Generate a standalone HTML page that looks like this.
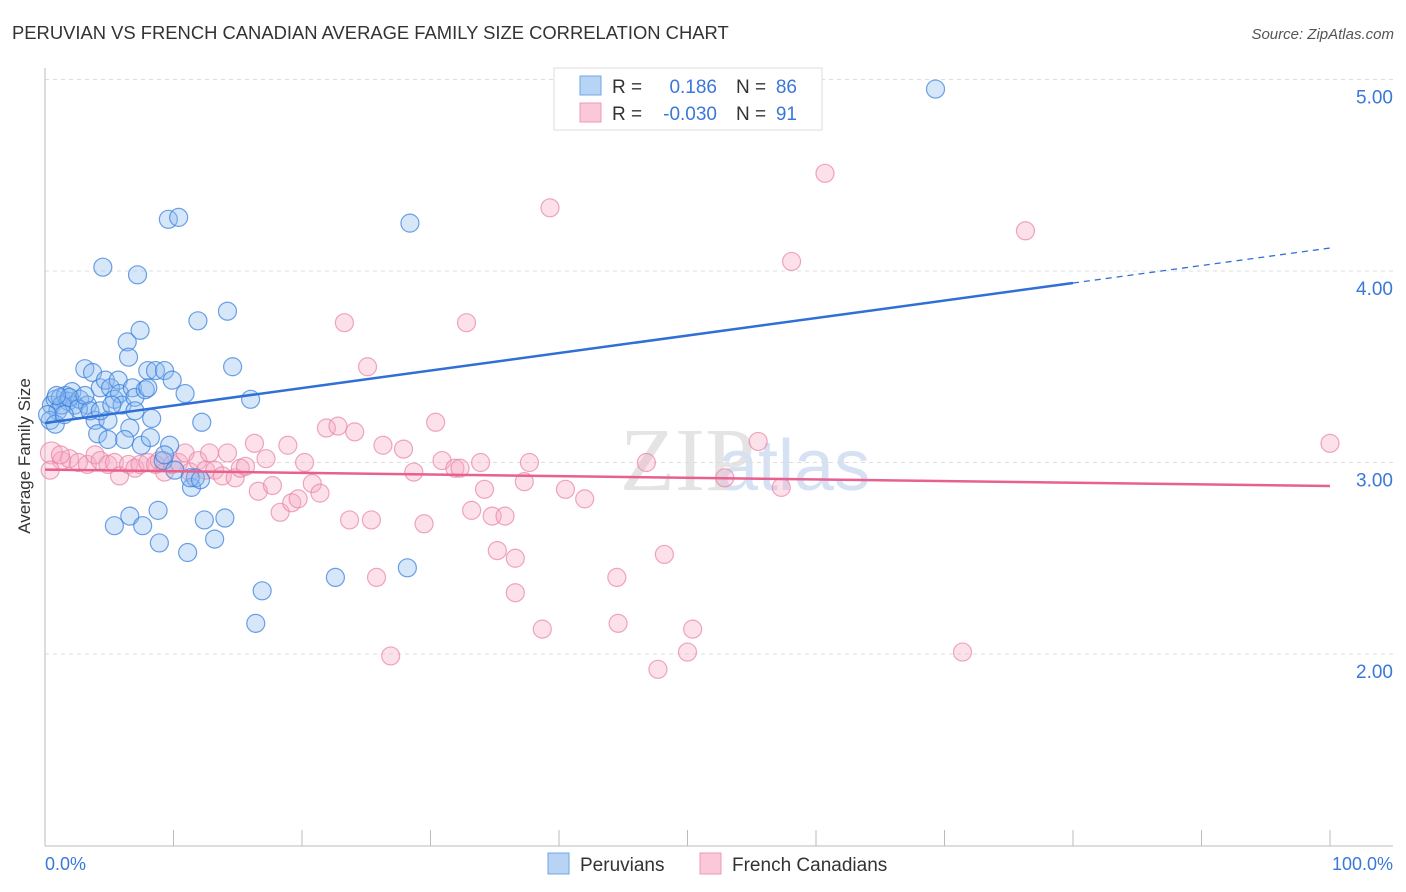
<!DOCTYPE html>
<html><head><meta charset="utf-8"><style>
body{margin:0;background:#fff;font-family:"Liberation Sans",sans-serif}
svg{display:block}
</style></head><body>
<svg width="1406" height="892" id="c">
<text x="12" y="39" font-size="18.4" fill="#333">PERUVIAN VS FRENCH CANADIAN AVERAGE FAMILY SIZE CORRELATION CHART</text>
<text x="1394" y="39" font-size="15" fill="#555" font-style="italic" text-anchor="end">Source: ZipAtlas.com</text>
<text x="30" y="456" font-size="17" fill="#333" text-anchor="middle" transform="rotate(-90 30 456)">Average Family Size</text>
<text x="620" y="490" font-size="90" fill="#e4e4e4" font-family="Liberation Serif,serif">ZIP</text>
<text x="718" y="490" font-size="72" fill="#d6e2f3">atlas</text>
<g id="grid"></g><g id="pts"></g><g id="lines"></g>
<g>
<rect x="554" y="68" width="268" height="62" fill="#fff" stroke="#ddd"/>
<rect x="580" y="76" width="21" height="19" fill="#b8d4f5" stroke="#6fa6e6"/>
<rect x="580" y="103" width="21" height="19" fill="#fac8d8" stroke="#ef9ab5"/>
<text x="612" y="93" font-size="19" fill="#333">R =</text><text x="717" y="93" font-size="19" fill="#3a78d8" text-anchor="end">0.186</text>
<text x="736" y="93" font-size="19" fill="#333">N =</text><text x="797" y="93" font-size="19" fill="#3a78d8" text-anchor="end">86</text>
<text x="612" y="120" font-size="19" fill="#333">R =</text><text x="717" y="120" font-size="19" fill="#3a78d8" text-anchor="end">-0.030</text>
<text x="736" y="120" font-size="19" fill="#333">N =</text><text x="797" y="120" font-size="19" fill="#3a78d8" text-anchor="end">91</text>
</g>
<g>
<rect x="548" y="853" width="21" height="21" fill="#b8d4f5" stroke="#6fa6e6"/>
<text x="580" y="871" font-size="19" fill="#333">Peruvians</text>
<rect x="700" y="853" width="21" height="21" fill="#fac8d8" stroke="#ef9ab5"/>
<text x="732" y="871" font-size="19" fill="#333">French Canadians</text>
</g>
<text x="45" y="870" font-size="18" fill="#3a78d8">0.0%</text>
<text x="1393" y="870" font-size="18" fill="#3a78d8" text-anchor="end">100.0%</text>
</svg>
<script>
const blueX=[0.5,0.8,1.0,1.2,1.6,1.8,2.1,2.3,2.7,3.1,3.3,3.7,3.9,4.1,4.3,4.5,4.7,4.9,5.1,5.4,5.7,5.8,6.0,6.4,6.5,6.6,6.8,7.0,7.2,7.4,7.5,7.8,8.0,8.2,8.3,8.6,8.8,8.9,9.2,9.3,9.6,9.7,9.9,10.1,10.4,10.9,11.1,11.4,11.7,11.9,12.2,12.4,13.2,14.0,14.2,14.6,16.0,16.9,16.4,5.4,6.6,7.6,22.6,28.2,28.4,69.3,0.4,1.3,1.9,2.6,3.1,3.5,4.3,4.9,5.2,6.2,7.0,8.0,9.3,11.3,12.1,0.2,0.8,0.9,1.5];
const blueY=[3.30,3.33,3.27,3.34,3.35,3.32,3.37,3.30,3.33,3.49,3.30,3.47,3.22,3.15,3.39,4.02,3.43,3.22,3.39,3.33,3.43,3.36,3.30,3.63,3.55,3.18,3.39,3.34,3.98,3.69,3.09,3.38,3.48,3.13,3.23,3.48,2.75,2.58,3.01,3.48,4.27,3.09,3.43,2.96,4.28,3.36,2.53,2.87,2.92,3.74,3.21,2.70,2.60,2.71,3.79,3.50,3.33,2.33,2.16,2.67,2.72,2.67,2.40,2.45,4.25,4.95,3.22,3.30,3.34,3.28,3.35,3.27,3.27,3.12,3.30,3.12,3.27,3.39,3.04,2.92,2.91,3.25,3.20,3.35,3.25];
const pinkX=[0.5,1.3,1.9,2.6,3.3,3.9,4.3,4.9,5.4,5.8,6.5,7.0,7.4,8.0,8.6,8.9,9.3,9.9,10.4,10.9,11.3,11.9,12.5,12.8,13.2,13.8,14.2,14.8,15.2,15.6,16.3,16.6,17.2,17.7,18.3,18.9,19.2,19.7,20.2,20.8,21.4,21.9,22.8,23.3,23.7,24.1,25.1,25.4,25.8,26.3,26.9,27.9,28.7,29.5,30.4,30.9,31.9,32.3,32.8,33.2,34.2,34.8,35.2,35.8,36.6,36.6,37.3,37.7,38.7,39.3,40.5,42.0,44.5,44.6,46.8,47.7,48.2,50.0,50.4,52.9,55.5,57.3,58.1,60.7,71.4,76.3,100,0.4,1.2,33.9];
const pinkY=[3.05,3.01,3.02,3.00,2.99,3.04,3.01,2.99,3.00,2.93,2.99,2.97,2.99,3.00,2.99,3.01,2.95,2.99,3.00,3.05,2.95,3.01,2.96,3.05,2.96,2.93,3.05,2.92,2.97,2.98,3.10,2.85,3.02,2.88,2.74,3.09,2.79,2.81,3.00,2.89,2.84,3.18,3.19,3.73,2.70,3.16,3.50,2.70,2.40,3.09,1.99,3.07,2.95,2.68,3.21,3.01,2.97,2.97,3.73,2.75,2.86,2.72,2.54,2.72,2.50,2.32,2.90,3.00,2.13,4.33,2.86,2.81,2.40,2.16,3.00,1.92,2.52,2.01,2.13,2.92,3.11,2.87,4.05,4.51,2.01,4.21,3.10,2.96,3.04,3.00];
const yTicks=[2,3,4,5];
const yTickLabels=["2.00","3.00","4.00","5.00"];
const blueTrend=[3.206,4.12];
const pinkTrend=[2.963,2.877];
const NS="http://www.w3.org/2000/svg";
const sx=v=>45+v*12.85, sy=v=>462.5-(v-3)*191.5;
function mk(t,a,p){const e=document.createElementNS(NS,t);for(const k in a)e.setAttribute(k,a[k]);p.appendChild(e);return e;}
const grid=document.getElementById('grid');
yTicks.forEach((t,i)=>{
 const g=mk('line',{x1:45,x2:1393,y1:sy(t),y2:sy(t),stroke:'#ddd','stroke-dasharray':'4,4'},grid);
 
 
 const tx=mk('text',{x:1393,y:sy(t)+24,'font-size':19,fill:'#3a78d8','text-anchor':'end'},grid);
 tx.textContent=yTickLabels[i];
 
 
});
mk('line',{x1:45,x2:45,y1:68,y2:846,stroke:'#bbb'},grid);
mk('line',{x1:45,x2:1393,y1:846,y2:846,stroke:'#bbb'},grid);
for(let i=0;i<=10;i++){const x=sx(i*10);mk('line',{x1:x,x2:x,y1:830,y2:846,stroke:'#bbb'},grid);}
const pts=document.getElementById('pts');
pinkX.forEach((x,i)=>{const c=mk('circle',{cx:sx(x),cy:sy(pinkY[i]),r:i==0?11:9,fill:'rgba(246,168,194,0.35)',stroke:'rgba(232,130,165,0.7)','stroke-width':1.2},pts);
 
 });
blueX.forEach((x,i)=>{const c=mk('circle',{cx:sx(x),cy:sy(blueY[i]),r:9,fill:'rgba(140,185,240,0.35)',stroke:'rgba(60,130,220,0.75)','stroke-width':1.2},pts);
 
 });
const L=document.getElementById('lines');
const by=x=>blueTrend[0]+(blueTrend[1]-blueTrend[0])*x/100;
const b1=mk('line',{x1:sx(0),y1:sy(by(0)),x2:sx(80),y2:sy(by(80)),stroke:'#2f6fd6','stroke-width':2.5},L);


const b2=mk('line',{x1:sx(80),y1:sy(by(80)),x2:sx(100),y2:sy(by(100)),stroke:'#2f6fd6','stroke-width':1.3,'stroke-dasharray':'6,5'},L);


const p1=mk('line',{x1:sx(0),y1:sy(pinkTrend[0]),x2:sx(100),y2:sy(pinkTrend[1]),stroke:'#e8608e','stroke-width':2.5},L);


</script>
</body></html>
